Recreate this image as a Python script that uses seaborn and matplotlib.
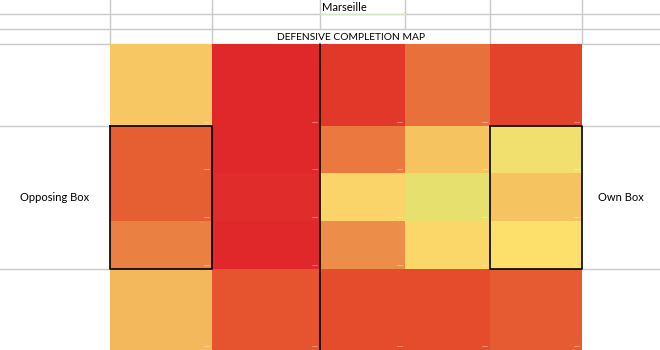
import numpy as np
import matplotlib
matplotlib.use("Agg")
import matplotlib.pyplot as plt
from matplotlib.colors import LinearSegmentedColormap
import seaborn as sns

sns.set_theme(style="white")
plt.rcParams['font.family'] = ['Lato', 'DejaVu Sans']

# ---- data ----
team = "Marseille"
title = "DEFENSIVE COMPLETION MAP"
left_label = "Opposing Box"
right_label = "Own Box"
# completion intensity per zone (rows top->bottom, cols left->right)
row0 = [33, 100, 92, 60, 87]
row1 = [70, 100, 56, 35, 6]
row2 = [70, 98, 25, 0, 35]
row3 = [52, 100, 48, 22, 12]
row4 = [38, 77, 82, 82, 73]
values = np.array([row0, row1, row2, row3, row4], dtype=float)

# ---- layout (pixels) ----
W, H = 660, 350
col_w = [102, 108, 85, 85, 92]
row_h = [82, 47, 48, 48, 81]
x0, y0 = 110, 44
grid_x = [110, 212, 320, 405, 490, 582]

anchors = [(0.00, "#E6E06E"), (0.12, "#FDE06C"), (0.25, "#FAD468"),
           (0.35, "#F5C461"), (0.50, "#EC8446"), (0.60, "#E8703A"),
           (0.70, "#E65F32"), (0.80, "#E5502D"), (0.90, "#E23D2A"),
           (1.00, "#E0282A")]
cmap = LinearSegmentedColormap.from_list("comp", anchors)

fig = plt.figure(figsize=(W / 100, H / 100), dpi=100)
fig.patch.set_facecolor("white")

# background spreadsheet grid
bg = fig.add_axes([0, 0, 1, 1])
bg.set_xlim(0, W)
bg.set_ylim(H, 0)
bg.axis("off")
gc = "#C9C9C9"
for y in [14, 29, 44]:
    bg.plot([0, W], [y, y], color=gc, lw=1)
for x in grid_x:
    bg.plot([x, x], [0, 29], color=gc, lw=1)
for x in [110, 212, 490, 582]:
    bg.plot([x, x], [29, 44], color=gc, lw=1)
bot = y0 + sum(row_h)
for y in [y0 + row_h[0], y0 + sum(row_h[:4])]:
    bg.plot([0, 110], [y, y], color=gc, lw=1)
    bg.plot([582, W], [y, y], color=gc, lw=1)
bg.plot([320, 405], [14, 14], color="#D6E8C6", lw=1)
fs = 8
bg.text(322, 7.5, team, ha="left", va="center", fontsize=fs, color="black")
bg.text(351, 37, title, ha="center", va="center", fontsize=7.4, color="black")
mid = y0 + row_h[0] + (row_h[1] + row_h[2] + row_h[3]) / 2
bg.text(55, mid, left_label, ha="center", va="center", fontsize=fs, color="black")
bg.text(621, mid, right_label, ha="center", va="center", fontsize=fs, color="black")

# heatmap (cells expanded to pixel widths)
rep = np.repeat(np.repeat(values, row_h, axis=0), col_w, axis=1)
hx = fig.add_axes([x0 / W, 1 - bot / H, sum(col_w) / W, sum(row_h) / H])
sns.heatmap(rep, cmap=cmap, vmin=0, vmax=100, cbar=False, ax=hx,
            xticklabels=False, yticklabels=False, rasterized=True)
hx.axis("off")

# overlay for borders
ov = fig.add_axes([0, 0, 1, 1], facecolor="none")
ov.set_xlim(0, W)
ov.set_ylim(H, 0)
ov.axis("off")
cx = np.concatenate([[x0], x0 + np.cumsum(col_w)])
cy = np.concatenate([[y0], y0 + np.cumsum(row_h)])
# small marks at cell corners
for i in range(5):
    for j in range(5):
        ov.plot([cx[j + 1] - 8, cx[j + 1] - 3], [cy[i + 1] - 4, cy[i + 1] - 4],
                color="white", alpha=0.35, lw=0.8)
bx_top, bx_bot = cy[1], cy[4]
for (a, b) in [(cx[0], cx[1]), (cx[4], cx[5])]:
    ov.plot([a, b, b, a, a], [bx_top, bx_top, bx_bot, bx_bot, bx_top],
            color="black", lw=1.2)
ov.plot([cx[2], cx[2]], [y0, bot], color="black", lw=1.2)

fig.savefig("out.png", dpi=100)
